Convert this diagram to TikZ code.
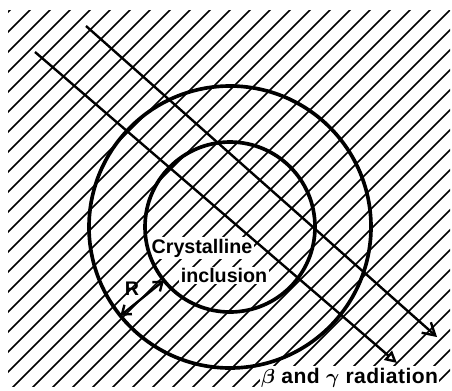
\documentclass[tikz,border=0pt]{standalone}
\usepackage{fontspec}
\setmainfont{Liberation Sans}
\usetikzlibrary{arrows.meta}

\begin{document}
\begin{tikzpicture}[
  hatch/.style={line width=1.2pt},
  ring/.style={circle, draw, line width=2.6pt, inner sep=0pt, outer sep=0pt},
  ray/.style={line width=1.7pt},
  lettering/.style={font=\fontsize{14}{16}\selectfont\bfseries\boldmath, fill=white, inner sep=1pt}
]
  \useasboundingbox (0,0) rectangle (11.3,-9.75);

  % Hatched surroundings
  \begin{scope}
    \clip (0.2,-0.25) rectangle (11.25,-9.65);
    \foreach \k in {0,0.5,...,21.5} {
      \draw[hatch] (\k,0) -- ++(-10,-10);
    }
  \end{scope}

  % Labels
  \node[lettering] (cryst) at (5.05,-6.2) {Crystalline};
  \node[lettering] (incl) at (5.6,-6.88) {inclusion};
  \node[lettering, font=\fontsize{15}{17}\selectfont\bfseries\boldmath\addfontfeature{LetterSpace=2},
        anchor=base] (rad) at (8.74,-9.575) {$\beta$ and $\gamma$ radiation};

  % Inclusion and range
  \coordinate (c) at (5.75,-5.675);
  \node[ring, minimum size=7.05cm] (outer) at (c) {};
  \node[ring, minimum size=4.25cm] (inner) at (c) {};

  % Radiation
  \coordinate (r1s) at (2.15,-0.65);
  \coordinate (r1e) at (10.925,-8.425);
  \coordinate (r2s) at (0.875,-1.3);
  \coordinate (r2e) at (9.925,-9.075);
  \draw[ray, -{Straight Barb[length=3mm, width=3.5mm]}] (r1s) -- (r1e);
  \draw[ray, -{Triangle[open, length=3mm, width=3mm]}] (r2s) -- (r2e);

  % Range R
  \draw[ray, {Straight Barb[length=2mm, width=3mm]}-{Straight Barb[length=2mm, width=3mm]}]
    (outer.219) -- node[above left=-2pt, font=\fontsize{14}{16}\selectfont\bfseries] (rlab) {R} (inner.219);
\end{tikzpicture}
\end{document}
